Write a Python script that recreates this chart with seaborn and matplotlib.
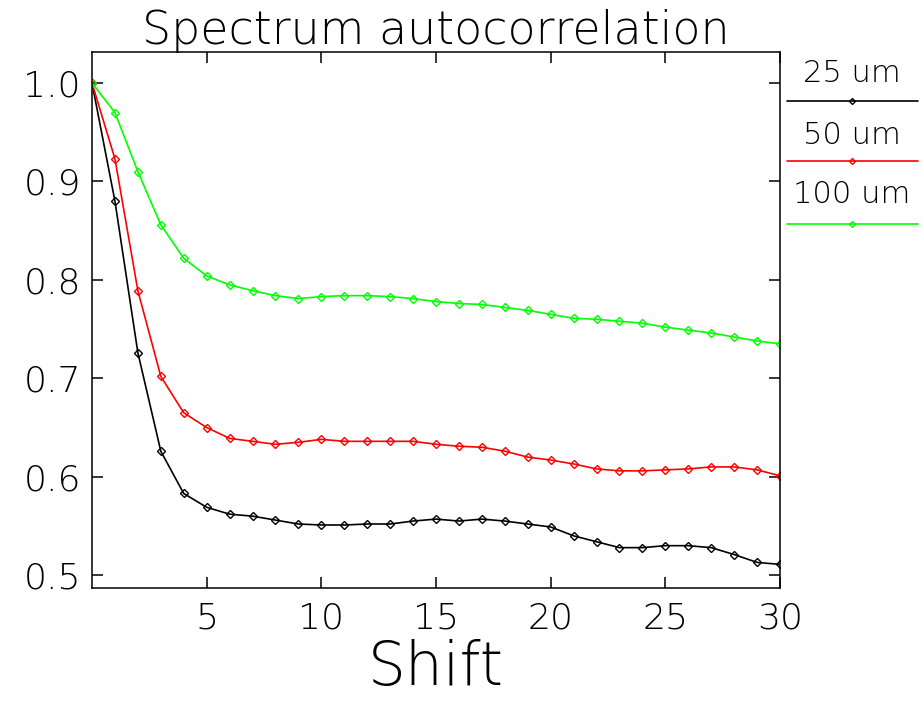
import matplotlib
matplotlib.use("Agg")
import matplotlib.pyplot as plt
from matplotlib.lines import Line2D
import pandas as pd
import seaborn as sns

shift = list(range(31))

corr_25 = [1.000, 0.880, 0.726, 0.626, 0.583, 0.569, 0.562, 0.560, 0.556, 0.552,
           0.551, 0.551, 0.552, 0.552, 0.555, 0.557, 0.555, 0.557, 0.555, 0.552,
           0.549, 0.540, 0.534, 0.528, 0.528, 0.530, 0.530, 0.528, 0.521, 0.513,
           0.511]
corr_50 = [1.000, 0.923, 0.789, 0.702, 0.665, 0.650, 0.639, 0.636, 0.633, 0.635,
           0.638, 0.636, 0.636, 0.636, 0.636, 0.633, 0.631, 0.630, 0.626, 0.620,
           0.617, 0.613, 0.608, 0.606, 0.606, 0.607, 0.608, 0.610, 0.610, 0.607,
           0.601]
corr_100 = [1.000, 0.970, 0.910, 0.856, 0.822, 0.804, 0.795, 0.789, 0.784, 0.781,
            0.783, 0.784, 0.784, 0.783, 0.781, 0.778, 0.776, 0.775, 0.772, 0.769,
            0.765, 0.761, 0.760, 0.758, 0.756, 0.752, 0.749, 0.746, 0.742, 0.738,
            0.735]

labels = ["25 um", "50 um", "100 um"]
colors = ["#000000", "#ff0000", "#00ff00"]
x_ticks = [5, 10, 15, 20, 25, 30]
y_ticks = [0.5, 0.6, 0.7, 0.8, 0.9, 1.0]

df = pd.concat([
    pd.DataFrame({"shift": shift, "corr": vals, "size": lab})
    for vals, lab in zip([corr_25, corr_50, corr_100], labels)
])

sns.set_theme(style="ticks")
plt.rcParams["font.family"] = ["DejaVu Sans"]
plt.rcParams["text.color"] = "black"
plt.rcParams["axes.labelcolor"] = "black"

fig = plt.figure(figsize=(9.21, 7.01), dpi=100)
ax = fig.add_axes([92 / 921, 1 - 588 / 701, (780 - 92) / 921, (588 - 52) / 701])

for lab, col in zip(labels, colors):
    sns.lineplot(data=df[df["size"] == lab], x="shift", y="corr", color=col,
                 marker="D", markersize=4, markerfacecolor="none",
                 markeredgecolor=col, markeredgewidth=1.0, linewidth=1.2,
                 ax=ax, legend=False)

ax.set_xlim(0, 30)
ax.set_ylim(0.487, 1.0315)
ax.set_xticks(x_ticks)
ax.set_yticks(y_ticks)
ax.set_yticklabels([f"{v:.1f}" for v in y_ticks])
ax.tick_params(direction="in", length=8, width=1.1, top=True, right=True,
               labelsize=26, colors="black")
ax.tick_params(axis="x", pad=10)
ax.tick_params(axis="y", pad=8)
for t in ax.get_xticklabels() + ax.get_yticklabels():
    t.set_fontweight("light")
for s in ax.spines.values():
    s.set_visible(True)
    s.set_linewidth(1.1)
    s.set_color("black")

ax.set_xlabel("Shift", fontsize=43, fontweight="light", labelpad=2)
ax.set_ylabel("")
ax.set_title("Spectrum autocorrelation", fontsize=33, fontweight="light", pad=6)

# legend drawn to the right of the frame
leg_text_y = [73, 135, 195]
leg_line_y = [101, 161, 224]
for lab, col, ty, ly in zip(labels, colors, leg_text_y, leg_line_y):
    fig.text(852 / 921, 1 - ty / 701, lab, ha="center", va="center",
             fontsize=22, fontweight="light")
    fig.add_artist(Line2D([787 / 921, 918 / 921], [1 - ly / 701, 1 - ly / 701],
                          color=col, linewidth=1.2, transform=fig.transFigure))
    fig.add_artist(Line2D([852 / 921], [1 - ly / 701], marker="D", markersize=3,
                          markerfacecolor="none", markeredgecolor=col,
                          transform=fig.transFigure))

fig.savefig("out.png", dpi=100)
